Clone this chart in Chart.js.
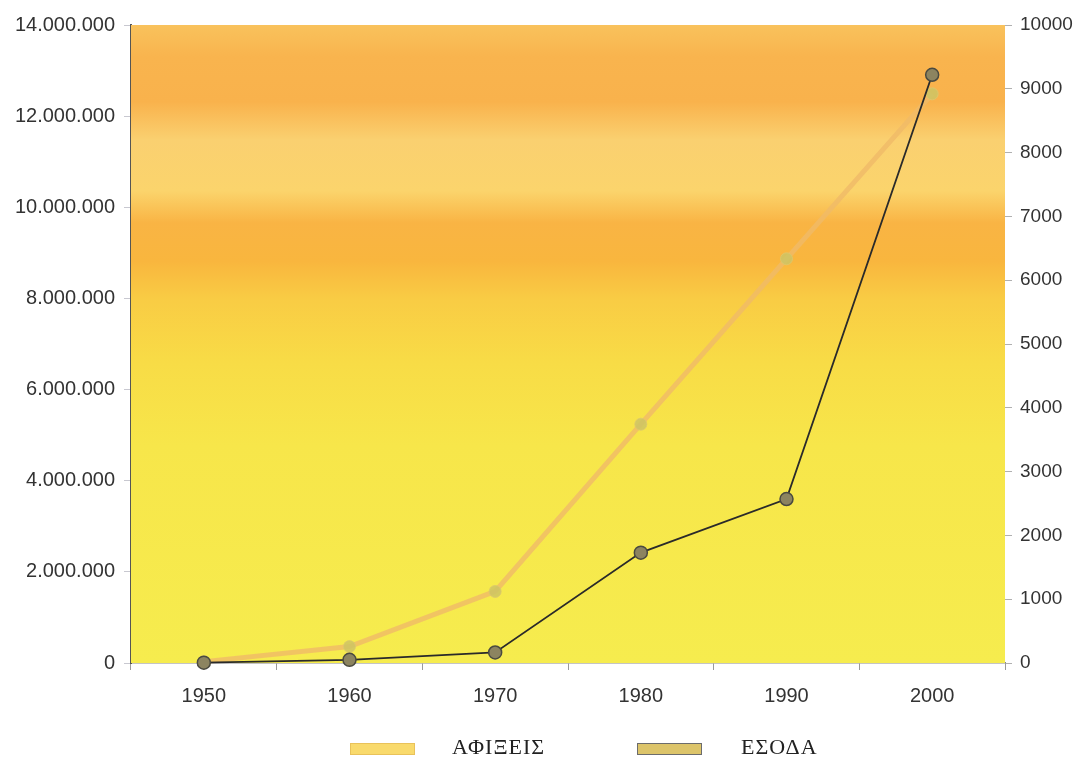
<!DOCTYPE html>
<html>
<head>
<meta charset="utf-8">
<script src="https://cdn.jsdelivr.net/npm/chart.js@4"></script>
<style>
body{margin:0;background:#fff;}
#wrap{position:relative;width:1080px;height:765px;}
#legend{position:absolute;left:0;top:0;width:1080px;height:765px;pointer-events:none;font-family:"Liberation Serif","DejaVu Serif",serif;font-size:22px;color:#222;}
.box{position:absolute;width:63px;height:10px;top:743px;}
.lbl{position:absolute;top:734px;letter-spacing:1px;}
</style>
</head>
<body>
<div id="wrap">
<canvas id="c" width="1080" height="765"></canvas>
<div id="legend">
<div class="box" style="left:350px;background:#f9da6c;border:1px solid #e9c25a;"></div>
<div class="lbl" style="left:452px;">ΑΦΙΞΕΙΣ</div>
<div class="box" style="left:637px;background:#dcc46a;border:1px solid #6c6c6c;"></div>
<div class="lbl" style="left:741px;">ΕΣΟΔΑ</div>
</div>
</div>
<script>
/* DATA */
let years=["1950","1960","1970","1980","1990","2000"];
let afixeis=[30000,360000,1570000,5240000,8870000,12490000];
let esoda=[5,50,165,1730,2570,9220];
let leftTicks=[0,2000000,4000000,6000000,8000000,10000000,12000000,14000000];
let rightTicks=[0,1000,2000,3000,4000,5000,6000,7000,8000,9000,10000];

/* background of plot area */
let bgPlugin={
id:"bg",
beforeDatasetsDraw(chart){
let a=chart.chartArea,ctx=chart.ctx;
let g=ctx.createLinearGradient(0,a.top,0,a.bottom);
g.addColorStop(0,"#f9c25c");
g.addColorStop(0.05,"#f9b44e");
g.addColorStop(0.12,"#f9b24c");
g.addColorStop(0.18,"#fad070");
g.addColorStop(0.26,"#fbd46c");
g.addColorStop(0.31,"#f9b444");
g.addColorStop(0.37,"#f9b63e");
g.addColorStop(0.43,"#f9cc44");
g.addColorStop(0.53,"#f8dc46");
g.addColorStop(0.66,"#f7e64a");
g.addColorStop(1,"#f6ec4e");
ctx.save();
ctx.fillStyle=g;
ctx.fillRect(a.left,a.top,a.right-a.left,a.bottom-a.top);
ctx.restore();
}
};

function dots(v){
return String(v).replace(/\B(?=(\d{3})+(?!\d))/g,".");
}

let tickFont={family:"'Liberation Sans', Arial, sans-serif",size:20};

new Chart(document.getElementById("c"),{
type:"line",
data:{
labels:years,
datasets:[
{
label:"ΕΣΟΔΑ",
data:esoda,
yAxisID:"y1",
borderColor:"#2a2a2a",
borderWidth:1.8,
pointRadius:6.5,
pointBackgroundColor:"#8c8460",
pointBorderColor:"#4a4a40",
pointBorderWidth:1.5,
tension:0,
clip:false,
order:1
},
{
label:"ΑΦΙΞΕΙΣ",
data:afixeis,
yAxisID:"y",
borderColor:"rgba(240,186,104,0.8)",
borderWidth:5,
pointRadius:6,
pointBackgroundColor:"rgba(206,196,100,0.85)",
pointBorderColor:"rgba(220,200,110,0.8)",
pointBorderWidth:1,
tension:0,
clip:false,
order:2
}
]
},
options:{
responsive:false,
animation:false,
layout:{padding:{top:25,left:0,right:0,bottom:0}},
plugins:{legend:{display:false},tooltip:{enabled:false}},
scales:{
x:{
offset:true,
grid:{offset:true,drawOnChartArea:false,drawTicks:true,tickLength:7,color:"#9a9a9a"},
border:{display:true,color:"#8a8a8a",width:1.5},
ticks:{font:tickFont,color:"#333",padding:14},
afterFit(s){s.height=102;}
},
y:{
position:"left",
min:0,max:14000000,
afterBuildTicks(s){s.ticks=leftTicks.map(v=>({value:v}));},
grid:{drawOnChartArea:false,drawTicks:true,tickLength:7,color:"#c8c8d0"},
border:{display:true,color:"#555",width:2},
ticks:{font:tickFont,color:"#333",padding:9,callback:v=>dots(v)},
afterFit(s){s.width=131;}
},
y1:{
position:"right",
min:0,max:10000,
afterBuildTicks(s){s.ticks=rightTicks.map(v=>({value:v}));},
grid:{drawOnChartArea:false,drawTicks:true,tickLength:7,color:"#b0b0b0"},
border:{display:false},
ticks:{font:{family:"'Liberation Sans', Arial, sans-serif",size:19},color:"#333",padding:8,callback:v=>String(v)},
afterFit(s){s.width=75;}
}
}
},
plugins:[bgPlugin]
});
</script>
</body>
</html>
